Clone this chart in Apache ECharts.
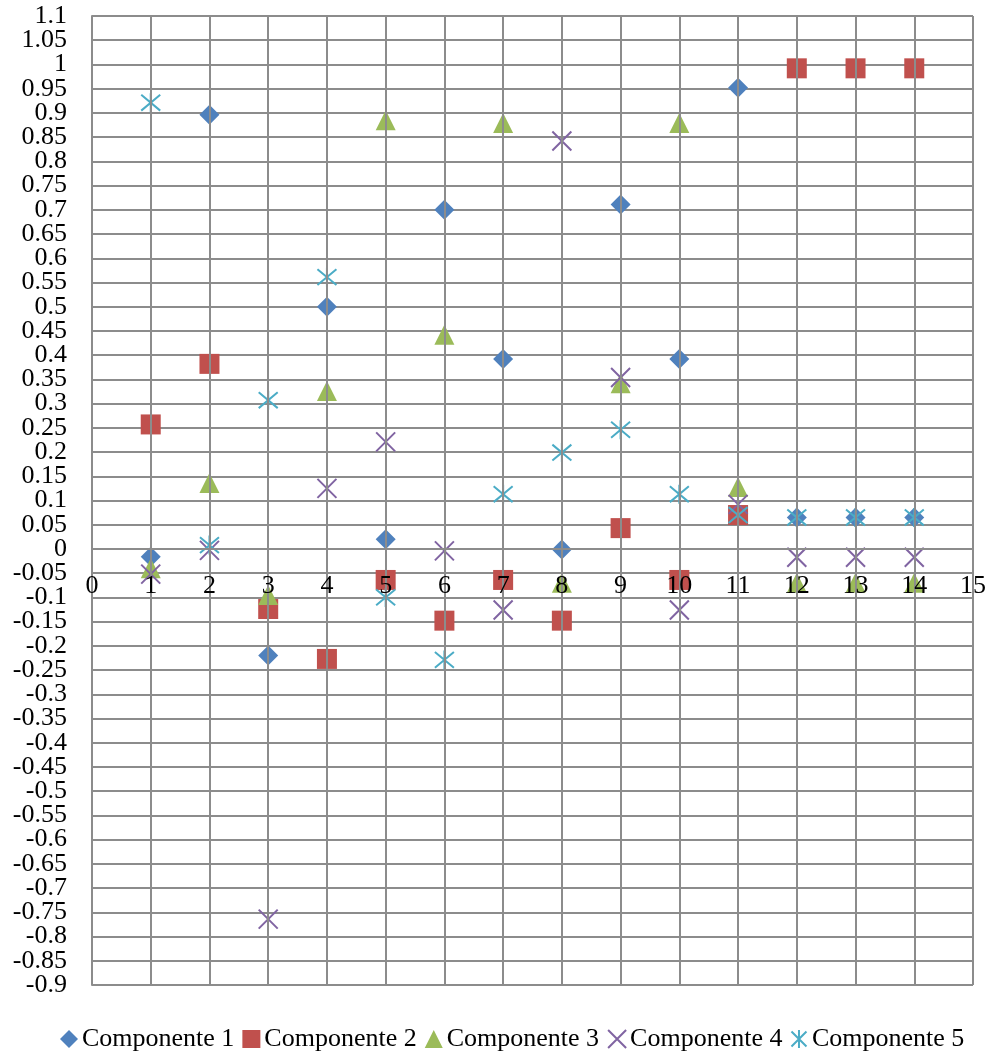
<!DOCTYPE html>
<html>
<head>
<meta charset="utf-8">
<script src="https://cdn.jsdelivr.net/npm/echarts@6/dist/echarts.min.js"></script>
<style>
  html, body { margin: 0; padding: 0; background: #fff; }
  #chart { width: 990px; height: 1053px; }
</style>
</head>
<body>
<div id="chart"></div>
<script>
// x positions (variable number)
const xValues = [1, 2, 3, 4, 5, 6, 7, 8, 9, 10, 11, 12, 13, 14];

// loadings
const comp1 = [-0.016, 0.896, -0.22, 0.5, 0.02, 0.7, 0.392, -0.001, 0.711, 0.392, 0.952, 0.065, 0.065, 0.065];
const comp2 = [0.257, 0.382, -0.124, -0.227, -0.064, -0.148, -0.064, -0.148, 0.043, -0.064, 0.07, 0.992, 0.992, 0.992];
const comp3 = [-0.04, 0.136, -0.095, 0.326, 0.885, 0.442, 0.879, -0.07, 0.342, 0.879, 0.128, -0.07, -0.07, -0.07];
const comp4 = [-0.052, -0.003, -0.764, 0.125, 0.221, -0.004, -0.126, 0.842, 0.354, -0.126, 0.092, -0.017, -0.017, -0.017];
const comp5 = [0.921, 0.008, 0.307, 0.561, -0.1, -0.229, 0.113, 0.199, 0.246, 0.113, 0.07, 0.065, 0.065, 0.065];

const seriesNames = ["Componente 1", "Componente 2", "Componente 3", "Componente 4", "Componente 5"];
const colors = ["#4F81BD", "#C0504D", "#9BBB59", "#8064A2", "#4BACC6"];

const crossPath = "path://M0,0L10,10M10,0L0,10";
const starPath = "path://M0,0L10,10M10,0L0,10M5,-1L5,11";
const symbols = ["diamond", "rect", "triangle", crossPath, starPath];
const sizes = [20, 20, 20, 19, 19];

const font = "Liberation Serif";
const gridColor = "#8c8c8c";

// plot box (px)
const gridTop = 16;
const gridBottom = 68;
const chartH = 1053;
const yMin = -0.9;
const yMax = 1.1;
const yStep = 0.05;
// x axis labels sit on the y = 0 line, like the original
const plotH = chartH - gridTop - gridBottom;
const zeroOffset = -Math.round(plotH * (0 - yMin) / (yMax - yMin));

const fmt = (v) => String(parseFloat(v.toFixed(2)));
// the two labels next to the ends get dropped by the overlap check,
// so a second (label-only) axis draws just those
const nearEnds = [fmt(yMax - yStep), fmt(yMin + yStep)];

const allData = [comp1, comp2, comp3, comp4, comp5];

const series = allData.map((vals, i) => {
  const isLine = i >= 3;
  return {
    name: seriesNames[i],
    type: "scatter",
    yAxisIndex: 0,
    symbol: symbols[i],
    symbolSize: sizes[i],
    data: xValues.map((x, k) => [x, vals[k]]),
    itemStyle: {
      color: colors[i],
      borderColor: colors[i],
      borderWidth: isLine ? 2 : 0,
      opacity: 1,
    },
  };
});

const yLabelStyle = {
  fontFamily: font,
  fontSize: 26,
  color: "#000",
  margin: 25,
  hideOverlap: false,
};

const chart = echarts.init(document.getElementById("chart"));
chart.setOption({
  animation: false,
  color: colors,
  grid: {
    left: 92,
    right: 17,
    top: gridTop,
    bottom: gridBottom,
    containLabel: false,
  },
  legend: {
    top: 1021,
    left: 55,
    itemGap: 8,
    itemWidth: 18,
    itemHeight: 18,
    textStyle: {
      fontFamily: font,
      fontSize: 26,
      color: "#000",
      padding: [0, 0, 0, -1],
    },
    data: seriesNames,
  },
  xAxis: {
    type: "value",
    min: 0,
    max: 15,
    interval: 1,
    offset: zeroOffset,
    z: 5,
    axisLine: { onZero: false, lineStyle: { color: gridColor, width: 2 } },
    axisTick: { show: false },
    axisLabel: {
      fontFamily: font,
      fontSize: 26,
      lineHeight: 22,
      color: "#000",
      margin: 26,
      showMinLabel: true,
      showMaxLabel: true,
      hideOverlap: false,
    },
    splitLine: { show: true, lineStyle: { color: gridColor, width: 2 } },
  },
  yAxis: [
    {
      type: "value",
      position: "left",
      min: yMin,
      max: yMax,
      interval: yStep,
      axisLine: { show: true, onZero: false, lineStyle: { color: gridColor, width: 2 } },
      axisTick: { show: false },
      axisLabel: Object.assign({}, yLabelStyle, {
        showMinLabel: true,
        showMaxLabel: true,
        formatter: fmt,
      }),
      splitLine: { show: true, lineStyle: { color: gridColor, width: 2 } },
    },
    {
      type: "value",
      position: "left",
      min: yMin,
      max: yMax,
      interval: yStep,
      axisLine: { show: false, onZero: false },
      axisTick: { show: false },
      axisLabel: Object.assign({}, yLabelStyle, {
        showMinLabel: false,
        showMaxLabel: false,
        formatter: (v) => (nearEnds.includes(fmt(v)) ? fmt(v) : ""),
      }),
      splitLine: { show: false },
    },
  ],
  series: series,
});
</script>
</body>
</html>
